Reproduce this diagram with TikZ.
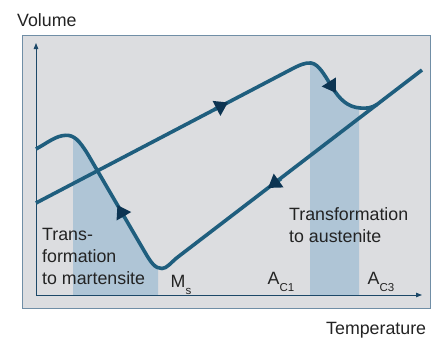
\documentclass[tikz,border=0pt]{standalone}
\usepackage{fontspec}
\setmainfont{Liberation Sans}
\usetikzlibrary{arrows.meta}
\definecolor{panelgray}{RGB}{220,221,224}
\definecolor{panelrim}{RGB}{112,142,166}
\definecolor{bandblue}{RGB}{175,197,214}
\definecolor{curveblue}{RGB}{31,94,126}
\definecolor{tipblue}{RGB}{12,52,82}
\definecolor{axisblue}{RGB}{28,72,104}
\definecolor{textgray}{RGB}{35,35,35}
\newcommand{\lowidx}[1]{\raisebox{-7pt}{\fontsize{11.5}{12}\selectfont #1}}

\begin{document}
\begin{tikzpicture}[x=1pt,y=-1pt,
  curve/.style={curveblue,line width=3.6pt},
  flowtip/.style={curveblue,line width=3.6pt,-{Triangle[length=13pt,width=16pt,color=tipblue]}},
  axis/.style={axisblue,line width=0.9pt},
  txt/.style={textgray,font=\fontsize{17.8}{22}\selectfont,inner sep=0pt}]
\useasboundingbox (0,0) rectangle (439,338);
\draw[panelrim,fill=panelgray,line width=1pt] (22,35) rectangle (430,308);
% shaded bands under the curves
\begin{scope}
\clip (73,35) rectangle (158,295);
\fill[bandblue] (422,70) -- (178,256.9) .. controls (171,262.3) and (167,268.5) .. (162,268.5) .. controls (155,268.5) and (151,262.6) .. (145,252.3) -- (87.7,154) .. controls (79,140) and (74,135.1) .. (66,135.3) .. controls (56,135.5) and (48,142.5) .. (36,149) -- (36,295) -- (422,295) -- cycle;
\end{scope}
\begin{scope}
\clip (310,35) rectangle (359,295);
\fill[bandblue] (290,70) .. controls (300,64.8) and (305,62.5) .. (311,63) .. controls (319,64) and (325,76) .. (332,87) .. controls (340,100) and (348,107) .. (360,108) .. controls (366,108.5) and (371,108.3) .. (377,104.5) -- (377,295) -- (290,295) -- cycle;
\end{scope}
% axes
\draw[axis,{Triangle[length=6pt,width=4.5pt]}-{Triangle[length=6pt,width=4.5pt]}] (36,43) -- (36,295) -- (422,295);
% cooling and heating curves
\draw[curve] (422,70) -- (178,256.9) .. controls (171,262.3) and (167,268.5) .. (162,268.5) .. controls (155,268.5) and (151,262.6) .. (145,252.3) -- (87.7,154) .. controls (79,140) and (74,135.1) .. (66,135.3) .. controls (56,135.5) and (48,142.5) .. (36,149);
\draw[curve] (36,203) -- (290,70) .. controls (300,64.8) and (305,62.5) .. (311,63) .. controls (319,64) and (325,76) .. (332,87) .. controls (340,100) and (348,107) .. (360,108) .. controls (366,108.5) and (371,108.3) .. (377,104.5);
\draw[flowtip] (214,109.7) -- (228,102.4);
\draw[flowtip] (328.3,81.1) -- (335.8,92.9);
\draw[flowtip] (281,178.8) -- (268,188);
\draw[flowtip] (124.4,217.1) -- (117.4,205);
% labels
\node[txt,anchor=base west] (volume) at (17,26.7) {Volume};
\node[txt,anchor=base west] (temperature) at (326,334.7) {Temperature};
\node[txt,anchor=north west,align=left] (martensite) at (42,228) {Trans-\\formation\\to martensite};
\node[txt,anchor=north west,align=left] (austenite) at (289,207) {Transformation\\to austenite};
\node[txt,anchor=base west] (ms) at (170.5,287.3) {M\lowidx{s}};
\node[txt,anchor=base west] (ac1) at (267.5,284.3) {A\lowidx{C1}};
\node[txt,anchor=base west] (ac3) at (367.5,284.3) {A\lowidx{C3}};
\end{tikzpicture}
\end{document}
